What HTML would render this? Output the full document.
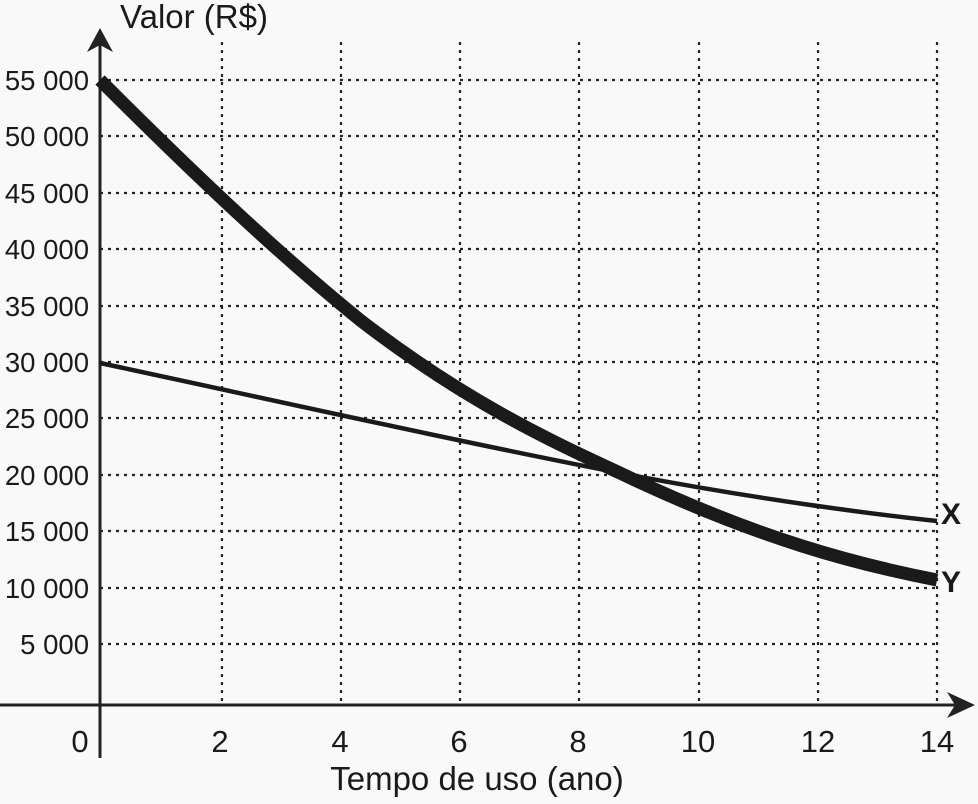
<!DOCTYPE html>
<html><head><meta charset="utf-8"><style>
html,body{margin:0;padding:0;background:#f9f9f9;}
svg{display:block}
text{font-family:"Liberation Sans",sans-serif;fill:#1a1a1a}
</style></head><body>
<svg width="978" height="804" viewBox="0 0 978 804">
<rect width="978" height="804" fill="#f9f9f9"/>
<g stroke="#222" stroke-width="2.2" stroke-dasharray="3,5" fill="none">
<line x1="100" y1="80" x2="937" y2="80"/>
<line x1="100" y1="136" x2="937" y2="136"/>
<line x1="100" y1="193" x2="937" y2="193"/>
<line x1="100" y1="249" x2="937" y2="249"/>
<line x1="100" y1="306" x2="937" y2="306"/>
<line x1="100" y1="362" x2="937" y2="362"/>
<line x1="100" y1="418" x2="937" y2="418"/>
<line x1="100" y1="475" x2="937" y2="475"/>
<line x1="100" y1="531" x2="937" y2="531"/>
<line x1="100" y1="588" x2="937" y2="588"/>
<line x1="100" y1="644" x2="937" y2="644"/>
<line x1="222" y1="42" x2="222" y2="705"/>
<line x1="341" y1="42" x2="341" y2="705"/>
<line x1="460" y1="42" x2="460" y2="705"/>
<line x1="579" y1="42" x2="579" y2="705"/>
<line x1="699" y1="42" x2="699" y2="705"/>
<line x1="818" y1="42" x2="818" y2="705"/>
<line x1="937" y1="42" x2="937" y2="705"/>
</g>
<g stroke="#222" stroke-width="3" fill="none">
<line x1="100" y1="40" x2="100" y2="758"/>
<line x1="0" y1="705" x2="965" y2="705"/>
</g>
<polygon points="100,28 87,52 100,45 113,52" fill="#222"/>
<polygon points="975,705 947,692 955,705 947,718" fill="#222"/>
<path d="M100,363 C250,395 450,440 620,473 C760,500 880,515 937,521" stroke="#1a1a1a" stroke-width="4.5" fill="none"/>
<path d="M100,80 C200,180 280,255 360,320 C470,405 560,445 620,473 C760,540 860,565 937,580" stroke="#1a1a1a" stroke-width="13" fill="none"/>
<g font-size="27.5" text-anchor="end">
<text x="89" y="90">55 000</text>
<text x="89" y="146">50 000</text>
<text x="89" y="203">45 000</text>
<text x="89" y="259">40 000</text>
<text x="89" y="316">35 000</text>
<text x="89" y="372">30 000</text>
<text x="89" y="428">25 000</text>
<text x="89" y="485">20 000</text>
<text x="89" y="541">15 000</text>
<text x="89" y="598">10 000</text>
<text x="89" y="654">5 000</text>
</g>
<g font-size="31" text-anchor="middle">
<text x="80" y="752">0</text>
<text x="220" y="752">2</text>
<text x="340" y="752">4</text>
<text x="459" y="752">6</text>
<text x="578" y="752">8</text>
<text x="698" y="752">10</text>
<text x="818" y="752">12</text>
<text x="937" y="752">14</text>
</g>
<text x="477" y="790" font-size="33" text-anchor="middle">Tempo de uso (ano)</text>
<text x="194" y="28" font-size="33" text-anchor="middle">Valor (R$)</text>
<text x="941" y="524" font-size="30" font-weight="bold">X</text>
<text x="941" y="592" font-size="30" font-weight="bold">Y</text>
</svg>
</body></html>
